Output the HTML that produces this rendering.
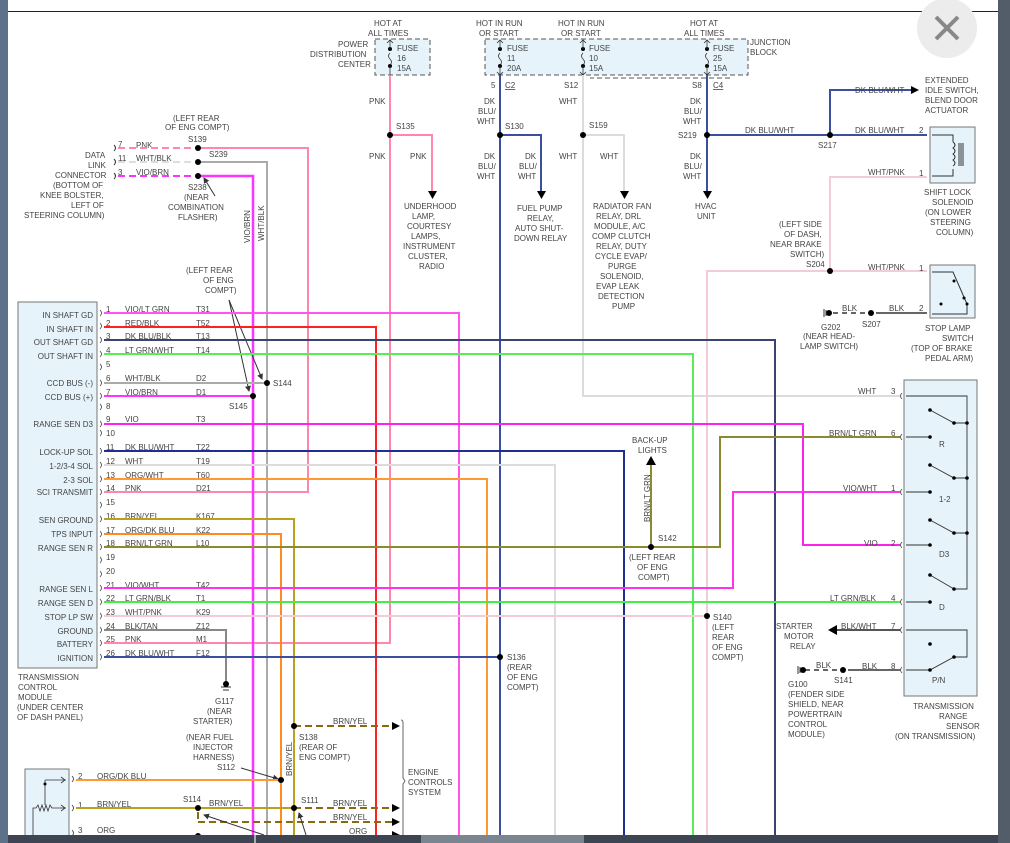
<!DOCTYPE html>
<html><head><meta charset="utf-8"><style>
html,body{margin:0;padding:0;background:#fff;width:1010px;height:843px;overflow:hidden}
svg{display:block}
text{font-family:"Liberation Sans",sans-serif;font-size:8px;fill:#444}
</style></head><body>
<svg width="1010" height="843" viewBox="0 0 1010 843" xmlns="http://www.w3.org/2000/svg">
<defs>
<marker id="ar" markerWidth="8" markerHeight="8" refX="7" refY="4" orient="auto" markerUnits="userSpaceOnUse"><path d="M0,0 L8,4 L0,8z" fill="#000"/></marker>
<marker id="sa" markerWidth="6" markerHeight="6" refX="5" refY="3" orient="auto" markerUnits="userSpaceOnUse"><path d="M0,0 L6,3 L0,6z" fill="#333"/></marker>
</defs>
<rect x="0" y="0" width="1010" height="843" fill="#fff"/>
<line x1="8" y1="11.5" x2="998" y2="11.5" stroke="#222" stroke-width="1"/>
<!-- close button -->
<circle cx="947" cy="28" r="30" fill="#ececec"/>
<path d="M936,17 L958,39 M958,17 L936,39" stroke="#888" stroke-width="4"/>

<!-- fuse boxes -->
<rect x="375" y="39" width="55" height="36" fill="#e6f3fb" stroke="#555" stroke-dasharray="5,3"/>
<rect x="485" y="39" width="263" height="36" fill="#e6f3fb" stroke="#555" stroke-dasharray="5,3"/>
<line x1="730" y1="78" x2="590" y2="78" stroke="#555" stroke-dasharray="5,3"/>
<g fill="#000">
<circle cx="390" cy="49" r="2"/><circle cx="390" cy="66" r="2"/>
<circle cx="500" cy="49" r="2"/><circle cx="500" cy="66" r="2"/>
<circle cx="583" cy="49" r="2"/><circle cx="583" cy="66" r="2"/>
<circle cx="707" cy="49" r="2"/><circle cx="707" cy="66" r="2"/>
</g>
<g stroke="#333" fill="none" stroke-width="0.8">
<path d="M390,40 V49 M390,66 V75 M387,43 L390,40 L393,43 M390,53 q-3,3 0,6 q3,3 0,6"/>
<path d="M500,40 V49 M500,66 V75 M497,43 L500,40 L503,43 M500,53 q-3,3 0,6 q3,3 0,6 M497,72 L500,75 L503,72"/>
<path d="M583,40 V49 M583,66 V75 M580,43 L583,40 L586,43 M580,72 L583,75 L586,72 M583,53 q-3,3 0,6 q3,3 0,6"/>
<path d="M707,40 V49 M707,66 V75 M704,43 L707,40 L710,43 M704,72 L707,75 L710,72 M707,53 q-3,3 0,6 q3,3 0,6"/>
</g>
<text x="374" y="26">HOT AT</text><text x="368" y="36">ALL TIMES</text>
<text x="338" y="47">POWER</text><text x="310" y="57">DISTRIBUTION</text><text x="338" y="67">CENTER</text>
<text x="397" y="51">FUSE</text><text x="397" y="61">16</text><text x="397" y="71">15A</text>
<text x="476" y="26">HOT IN RUN</text><text x="479" y="36">OR START</text>
<text x="558" y="26">HOT IN RUN</text><text x="561" y="36">OR START</text>
<text x="690" y="26">HOT AT</text><text x="684" y="36">ALL TIMES</text>
<text x="507" y="51">FUSE</text><text x="507" y="61">11</text><text x="507" y="71">20A</text>
<text x="589" y="51">FUSE</text><text x="589" y="61">10</text><text x="589" y="71">15A</text>
<text x="713" y="51">FUSE</text><text x="713" y="61">25</text><text x="713" y="71">15A</text>
<text x="750" y="45">JUNCTION</text><text x="750" y="55">BLOCK</text>
<text x="491" y="88">5</text><text x="505" y="88" text-decoration="underline">C2</text>
<text x="564" y="88">S12</text><text x="692" y="88">S8</text><text x="713" y="88" text-decoration="underline">C4</text>

<!-- vertical feeds -->
<g fill="none" stroke-width="2">
<path d="M390,75 V643 H104" stroke="#ff88aa"/>
<path d="M390,135 H432 V192" stroke="#ff88aa"/>
<path d="M500,75 V835" stroke="#3a4fa0"/>
<path d="M500,135 H541 V192" stroke="#3a4fa0"/>
<path d="M583,75 V396 H900" stroke="#dcdcdc"/>
<path d="M583,135 H624 V192" stroke="#dcdcdc"/>
<path d="M707,75 V192" stroke="#3a4fa0"/>
<path d="M707,135 H927" stroke="#3a4fa0"/>
<path d="M830,135 V90 H912" stroke="#3a4fa0"/>
</g>
<g fill="#000">
<path d="M428,191 h9 l-4.5,8z"/><path d="M537,191 h9 l-4.5,8z"/><path d="M620,191 h9 l-4.5,8z"/><path d="M703,191 h9 l-4.5,8z"/>
<path d="M911,86 v8 l8,-4z"/>
</g>
<text x="369" y="104">PNK</text><text x="369" y="159">PNK</text><text x="410" y="159">PNK</text>
<text x="396" y="129">S135</text>
<text x="484" y="104">DK</text><text x="478" y="114">BLU/</text><text x="477" y="124">WHT</text>
<text x="484" y="159">DK</text><text x="478" y="169">BLU/</text><text x="477" y="179">WHT</text>
<text x="525" y="159">DK</text><text x="519" y="169">BLU/</text><text x="518" y="179">WHT</text>
<text x="505" y="129">S130</text>
<text x="559" y="104">WHT</text><text x="559" y="159">WHT</text><text x="600" y="159">WHT</text>
<text x="589" y="128">S159</text>
<text x="690" y="104">DK</text><text x="684" y="114">BLU/</text><text x="683" y="124">WHT</text>
<text x="690" y="159">DK</text><text x="684" y="169">BLU/</text><text x="683" y="179">WHT</text>
<text x="678" y="138">S219</text>
<text x="745" y="133">DK BLU/WHT</text><text x="855" y="133">DK BLU/WHT</text><text x="855" y="93">DK BLU/WHT</text>
<text x="818" y="148">S217</text>
<text x="404" y="209">UNDERHOOD</text><text x="412" y="219">LAMP,</text><text x="407" y="229">COURTESY</text><text x="411" y="239">LAMPS,</text><text x="403" y="249">INSTRUMENT</text><text x="408" y="259">CLUSTER,</text><text x="419" y="269">RADIO</text>
<text x="517" y="211">FUEL PUMP</text><text x="527" y="221">RELAY,</text><text x="515" y="231">AUTO SHUT-</text><text x="514" y="241">DOWN RELAY</text>
<text x="593" y="209">RADIATOR FAN</text><text x="596" y="219">RELAY, DRL</text><text x="594" y="229">MODULE, A/C</text><text x="592" y="239">COMP CLUTCH</text><text x="596" y="249">RELAY, DUTY</text><text x="595" y="259">CYCLE EVAP/</text><text x="608" y="269">PURGE</text><text x="600" y="279">SOLENOID,</text><text x="596" y="289">EVAP LEAK</text><text x="598" y="299">DETECTION</text><text x="612" y="309">PUMP</text>
<text x="695" y="209">HVAC</text><text x="697" y="219">UNIT</text>
<text x="925" y="83">EXTENDED</text><text x="925" y="93">IDLE SWITCH,</text><text x="925" y="103">BLEND DOOR</text><text x="925" y="113">ACTUATOR</text>

<!-- shift lock solenoid -->
<rect x="930" y="127" width="45" height="56" fill="#e6f3fb" stroke="#777"/>
<path d="M932,135 H953 V142 M953,169 V176 H932" stroke="#333" fill="none"/>
<path d="M953,142 q4,3 0,6 q4,3 0,6 q4,3 0,6 q4,3 0,6" stroke="#333" fill="none"/>
<path d="M959,143 V166 M961,143 V166 M963,143 V166" stroke="#333"/>
<text x="919" y="133">2</text><text x="919" y="176">1</text>
<text x="924" y="195">SHIFT LOCK</text><text x="932" y="205">SOLENOID</text><text x="925" y="215">(ON LOWER</text><text x="930" y="225">STEERING</text><text x="936" y="235">COLUMN)</text>
<path d="M927,177 H830 V271 H707 V835" stroke="#f4ccd8" stroke-width="2" fill="none"/>
<path d="M830,271 H927" stroke="#f4ccd8" stroke-width="2"/>
<text x="868" y="175">WHT/PNK</text><text x="868" y="270">WHT/PNK</text>
<text x="779" y="227">(LEFT SIDE</text><text x="784" y="237">OF DASH,</text><text x="770" y="247">NEAR BRAKE</text><text x="790" y="257">SWITCH)</text><text x="806" y="267">S204</text>
<!-- stop lamp switch -->
<rect x="930" y="265" width="45" height="53" fill="#e6f3fb" stroke="#777"/>
<path d="M932,272 H953 L967,304 V314 H932" stroke="#333" fill="none"/>
<circle cx="954" cy="281" r="1.5"/><circle cx="941" cy="304" r="1.5"/><circle cx="967" cy="304" r="1.5"/><circle cx="964" cy="298" r="1.5"/>
<text x="919" y="271">1</text><text x="919" y="311">2</text>
<text x="925" y="331">STOP LAMP</text><text x="942" y="341">SWITCH</text><text x="911" y="351">(TOP OF BRAKE</text><text x="925" y="361">PEDAL ARM)</text>
<path d="M876,313 H927" stroke="#666" stroke-width="2"/>
<path d="M833,313 H871" stroke="#666" stroke-width="2" stroke-dasharray="5,4"/>
<circle cx="829" cy="313" r="3"/><path d="M824,309 V317 M826,310 V316" stroke="#333"/>
<circle cx="871" cy="313" r="3"/>
<text x="842" y="311">BLK</text><text x="889" y="311">BLK</text>
<text x="821" y="330">G202</text><text x="862" y="327">S207</text>
<text x="803" y="339">(NEAR HEAD-</text><text x="800" y="349">LAMP SWITCH)</text>

<!-- data link connector -->
<text x="85" y="158">DATA</text><text x="88" y="168">LINK</text><text x="55" y="178">CONNECTOR</text><text x="53" y="188">(BOTTOM OF</text><text x="40" y="198">KNEE BOLSTER,</text><text x="71" y="208">LEFT OF</text><text x="24" y="218">STEERING COLUMN)</text>
<path d="M114,145 q3,3 0,6 M114,159 q3,3 0,6 M114,173 q3,3 0,6" stroke="#333" fill="none"/>
<text x="118" y="147">7</text><text x="118" y="161">11</text><text x="118" y="175">3</text>
<text x="136" y="148">PNK</text><text x="136" y="161">WHT/BLK</text><text x="136" y="175">VIO/BRN</text>
<path d="M118,148 H198" stroke="#ff88aa" stroke-width="2" stroke-dasharray="7,4"/>
<path d="M118,162 H198" stroke="#ddd" stroke-width="2" stroke-dasharray="7,4"/>
<path d="M118,176 H198" stroke="#ff33ff" stroke-width="2" stroke-dasharray="7,4"/>
<path d="M198,148 H308 V492 H104" stroke="#ff88aa" stroke-width="2" fill="none"/>
<path d="M198,162 H267 V835" stroke="#aaa" stroke-width="2" fill="none"/>
<path d="M198,176 H253 V835" stroke="#ff33ff" stroke-width="2.5" fill="none"/>
<text x="173" y="121">(LEFT REAR</text><text x="165" y="130">OF ENG COMPT)</text><text x="188" y="142">S139</text>
<text x="209" y="157">S239</text><text x="188" y="190">S238</text><text x="184" y="200">(NEAR</text><text x="168" y="210">COMBINATION</text><text x="178" y="220">FLASHER)</text>
<line x1="215" y1="196" x2="204" y2="178" stroke="#333" marker-end="url(#sa)"/>
<text transform="translate(250,243) rotate(-90)">VIO/BRN</text>
<text transform="translate(264,241) rotate(-90)">WHT/BLK</text>
<text x="186" y="273">(LEFT REAR</text><text x="203" y="283">OF ENG</text><text x="205" y="293">COMPT)</text>
<line x1="229" y1="300" x2="249" y2="391" stroke="#333" marker-end="url(#sa)"/>
<line x1="229" y1="300" x2="262" y2="379" stroke="#333" marker-end="url(#sa)"/>

<!-- TCM -->
<rect x="18" y="302" width="79" height="366" fill="#e6f3fb" stroke="#777"/>
<g text-anchor="end">
<text x="93" y="318">IN SHAFT GD</text><text x="93" y="332">IN SHAFT IN</text><text x="93" y="345">OUT SHAFT GD</text><text x="93" y="359">OUT SHAFT IN</text>
<text x="93" y="386">CCD BUS (-)</text><text x="93" y="400">CCD BUS (+)</text><text x="93" y="427">RANGE SEN D3</text>
<text x="93" y="455">LOCK-UP SOL</text><text x="93" y="469">1-2/3-4 SOL</text><text x="93" y="483">2-3 SOL</text><text x="93" y="495">SCI TRANSMIT</text>
<text x="93" y="523">SEN GROUND</text><text x="93" y="537">TPS INPUT</text><text x="93" y="551">RANGE SEN R</text>
<text x="93" y="592">RANGE SEN L</text><text x="93" y="606">RANGE SEN D</text><text x="93" y="620">STOP LP SW</text><text x="93" y="634">GROUND</text><text x="93" y="647">BATTERY</text><text x="93" y="661">IGNITION</text>
</g>
<text x="18" y="680">TRANSMISSION</text><text x="18" y="690">CONTROL</text><text x="18" y="700">MODULE</text><text x="17" y="710">(UNDER CENTER</text><text x="17" y="720">OF DASH PANEL)</text>
<g stroke="#444" fill="none" stroke-width="0.8">
<path d="M100,310 q3,3 0,6 M100,323 q3,3 0,6 M100,337 q3,3 0,6 M100,351 q3,3 0,6 M100,364 q3,3 0,6 M100,380 q3,3 0,6 M100,393 q3,3 0,6 M100,404 q3,3 0,6 M100,421 q3,3 0,6 M100,430 q3,3 0,6 M100,448 q3,3 0,6 M100,462 q3,3 0,6 M100,476 q3,3 0,6 M100,489 q3,3 0,6 M100,502 q3,3 0,6 M100,516 q3,3 0,6 M100,531 q3,3 0,6 M100,544 q3,3 0,6 M100,557 q3,3 0,6 M100,571 q3,3 0,6 M100,585 q3,3 0,6 M100,599 q3,3 0,6 M100,613 q3,3 0,6 M100,627 q3,3 0,6 M100,640 q3,3 0,6 M100,654 q3,3 0,6"/>
</g>
<g>
<text x="106" y="312">1</text><text x="106" y="326">2</text><text x="106" y="339">3</text><text x="106" y="353">4</text><text x="106" y="367">5</text><text x="106" y="381">6</text><text x="106" y="395">7</text><text x="106" y="409">8</text><text x="106" y="422">9</text><text x="106" y="436">10</text>
<text x="106" y="450">11</text><text x="106" y="464">12</text><text x="106" y="478">13</text><text x="106" y="491">14</text><text x="106" y="505">15</text><text x="106" y="519">16</text><text x="106" y="533">17</text><text x="106" y="546">18</text><text x="106" y="560">19</text><text x="106" y="574">20</text>
<text x="106" y="588">21</text><text x="106" y="601">22</text><text x="106" y="615">23</text><text x="106" y="629">24</text><text x="106" y="642">25</text><text x="106" y="656">26</text>
<text x="125" y="312">VIO/LT GRN</text><text x="196" y="312">T31</text>
<text x="125" y="326">RED/BLK</text><text x="196" y="326">T52</text>
<text x="125" y="339">DK BLU/BLK</text><text x="196" y="339">T13</text>
<text x="125" y="353">LT GRN/WHT</text><text x="196" y="353">T14</text>
<text x="125" y="381">WHT/BLK</text><text x="196" y="381">D2</text>
<text x="125" y="395">VIO/BRN</text><text x="196" y="395">D1</text>
<text x="125" y="422">VIO</text><text x="196" y="422">T3</text>
<text x="125" y="450">DK BLU/WHT</text><text x="196" y="450">T22</text>
<text x="125" y="464">WHT</text><text x="196" y="464">T19</text>
<text x="125" y="478">ORG/WHT</text><text x="196" y="478">T60</text>
<text x="125" y="491">PNK</text><text x="196" y="491">D21</text>
<text x="125" y="519">BRN/YEL</text><text x="196" y="519">K167</text>
<text x="125" y="533">ORG/DK BLU</text><text x="196" y="533">K22</text>
<text x="125" y="546">BRN/LT GRN</text><text x="196" y="546">L10</text>
<text x="125" y="588">VIO/WHT</text><text x="196" y="588">T42</text>
<text x="125" y="601">LT GRN/BLK</text><text x="196" y="601">T1</text>
<text x="125" y="615">WHT/PNK</text><text x="196" y="615">K29</text>
<text x="125" y="629">BLK/TAN</text><text x="196" y="629">Z12</text>
<text x="125" y="642">PNK</text><text x="196" y="642">M1</text>
<text x="125" y="656">DK BLU/WHT</text><text x="196" y="656">F12</text>
</g>
<!-- TCM wires -->
<g fill="none" stroke-width="2">
<path d="M104,313 H459 V835" stroke="#ff55ee"/>
<path d="M104,327 H376 V835" stroke="#ff2020"/>
<path d="M104,340 H775 V835" stroke="#3a4470"/>
<path d="M104,354 H693 V835" stroke="#55ee55"/>
<path d="M104,383 H267" stroke="#aaa"/>
<path d="M104,396 H253" stroke="#ff33ff"/>
<path d="M104,424 H803 V545 H900" stroke="#ff22ee"/>
<path d="M104,451 H624 V835" stroke="#1f2f8f"/>
<path d="M104,465 H555 V835" stroke="#dcdcdc"/>
<path d="M104,479 H487 V835" stroke="#ff9933"/>
<path d="M104,519 H294 V835" stroke="#b8a020"/>
<path d="M104,534 H281 V835" stroke="#ff8a20"/>
<path d="M104,547 H720 V437 H900" stroke="#8a8a30"/>
<path d="M104,588 H733 V492 H900" stroke="#ff33ee"/>
<path d="M104,602 H900" stroke="#44ee44"/>
<path d="M104,616 H707" stroke="#f4ccd8"/>
<path d="M104,630 H226 V683" stroke="#888"/>
<path d="M104,657 H500" stroke="#3a4fa0"/>
<path d="M651,547 V464" stroke="#8a8a30"/>
</g>
<path d="M646,465 h10 l-5,-9z" fill="#000"/>
<text x="632" y="443">BACK-UP</text><text x="638" y="453">LIGHTS</text>
<text transform="translate(650,522) rotate(-90)">BRN/LT GRN</text>
<text x="658" y="541">S142</text><text x="629" y="560">(LEFT REAR</text><text x="637" y="570">OF ENG</text><text x="638" y="580">COMPT)</text>
<text x="713" y="620">S140</text><text x="712" y="630">(LEFT</text><text x="712" y="640">REAR</text><text x="712" y="650">OF ENG</text><text x="712" y="660">COMPT)</text>
<text x="507" y="660">S136</text><text x="507" y="670">(REAR</text><text x="507" y="680">OF ENG</text><text x="507" y="690">COMPT)</text>
<g fill="#000">
<circle cx="198" cy="148" r="3"/><circle cx="198" cy="162" r="3"/><circle cx="198" cy="176" r="3"/>
<circle cx="390" cy="135" r="3"/><circle cx="500" cy="135" r="3"/><circle cx="583" cy="135" r="3"/><circle cx="707" cy="135" r="3"/><circle cx="830" cy="135" r="3"/><circle cx="830" cy="271" r="3"/>
<circle cx="267" cy="383" r="3"/><circle cx="253" cy="396" r="3"/>
<circle cx="651" cy="547" r="3"/><circle cx="707" cy="616" r="3"/><circle cx="500" cy="657" r="3"/>
</g>
<text x="273" y="386">S144</text><text x="229" y="409">S145</text>
<!-- G117 -->
<path d="M221,687 H231 M223,690 H229" stroke="#333"/><circle cx="226" cy="684" r="3" fill="#000"/>
<text x="215" y="704">G117</text><text x="207" y="714">(NEAR</text><text x="193" y="724">STARTER)</text>

<!-- transmission range sensor -->
<rect x="904" y="380" width="73" height="316" fill="#e6f3fb" stroke="#777"/>
<g stroke="#333" fill="none" stroke-width="0.9">
<path d="M906,396 H967 V589 H954"/>
<path d="M930,410 L954,423 H967 M930,465 L954,478 H967 M930,520 L954,533 H967 M930,575 L954,589"/>
<path d="M906,437 H930 M906,492 H930 M906,545 H930 M906,602 H930 M906,670 H930 L954,657 H967 V630 H906"/>
</g>
<g fill="#000">
<circle cx="930" cy="410" r="1.8"/><circle cx="954" cy="423" r="1.8"/><circle cx="967" cy="423" r="1.8"/><circle cx="930" cy="437" r="1.8"/>
<circle cx="930" cy="465" r="1.8"/><circle cx="954" cy="478" r="1.8"/><circle cx="967" cy="478" r="1.8"/><circle cx="930" cy="492" r="1.8"/>
<circle cx="930" cy="520" r="1.8"/><circle cx="954" cy="533" r="1.8"/><circle cx="967" cy="533" r="1.8"/><circle cx="930" cy="545" r="1.8"/>
<circle cx="930" cy="575" r="1.8"/><circle cx="954" cy="589" r="1.8"/><circle cx="930" cy="602" r="1.8"/>
<circle cx="930" cy="644" r="1.8"/><circle cx="954" cy="657" r="1.8"/><circle cx="930" cy="670" r="1.8"/>
</g>
<text x="939" y="447">R</text><text x="939" y="502">1-2</text><text x="939" y="557">D3</text><text x="939" y="610">D</text><text x="932" y="683">P/N</text>
<g stroke="#444" fill="none" stroke-width="0.8">
<path d="M902,393 q-3,3 0,6 M902,434 q-3,3 0,6 M902,489 q-3,3 0,6 M902,542 q-3,3 0,6 M902,599 q-3,3 0,6 M902,627 q-3,3 0,6 M902,667 q-3,3 0,6"/>
</g>
<text x="858" y="394">WHT</text><text x="891" y="394">3</text>
<text x="829" y="436">BRN/LT GRN</text><text x="891" y="436">6</text>
<text x="843" y="491">VIO/WHT</text><text x="891" y="491">1</text>
<text x="864" y="546">VIO</text><text x="891" y="546">2</text>
<text x="830" y="601">LT GRN/BLK</text><text x="891" y="601">4</text>
<text x="841" y="629">BLK/WHT</text><text x="891" y="629">7</text>
<text x="862" y="669">BLK</text><text x="891" y="669">8</text>
<path d="M836,630 H900" stroke="#555" stroke-width="2"/>
<path d="M828,630 l9,-5 v10z" fill="#000"/>
<text x="776" y="629">STARTER</text><text x="784" y="639">MOTOR</text><text x="790" y="649">RELAY</text>
<path d="M848,670 H900" stroke="#666" stroke-width="2"/>
<path d="M805,670 H843" stroke="#666" stroke-width="2" stroke-dasharray="5,4"/>
<circle cx="803" cy="670" r="3"/><path d="M798,666 V674 M800,667 V673" stroke="#333"/>
<circle cx="843" cy="670" r="3"/>
<text x="816" y="668">BLK</text><text x="834" y="683">S141</text>
<text x="788" y="687">G100</text><text x="788" y="697">(FENDER SIDE</text><text x="788" y="707">SHIELD, NEAR</text><text x="788" y="717">POWERTRAIN</text><text x="788" y="727">CONTROL</text><text x="788" y="737">MODULE)</text>
<text x="913" y="709">TRANSMISSION</text><text x="939" y="719">RANGE</text><text x="946" y="729">SENSOR</text><text x="895" y="739">(ON TRANSMISSION)</text>

<!-- engine controls area -->
<path d="M294,726 H392" stroke="#8a6a10" stroke-width="2" stroke-dasharray="7,4"/>
<path d="M294,808 H392" stroke="#8a6a10" stroke-width="2" stroke-dasharray="7,4"/>
<path d="M198,822 H392 M198,812 V822" stroke="#8a6a10" stroke-width="2" stroke-dasharray="7,4"/>
<path d="M392,722 l8,4 l-8,4z M392,804 l8,4 l-8,4z M392,818 l8,4 l-8,4z M392,831 l8,4 l-8,4z" fill="#000"/>
<path d="M401,720 q2,0 2,3 V778 l2,3 l-2,3 V838" stroke="#666" fill="none"/>
<text x="408" y="775">ENGINE</text><text x="408" y="785">CONTROLS</text><text x="408" y="795">SYSTEM</text>
<text x="333" y="724">BRN/YEL</text><text x="333" y="806">BRN/YEL</text><text x="333" y="820">BRN/YEL</text><text x="349" y="834">ORG</text>
<text x="299" y="740">S138</text><text x="299" y="750">(REAR OF</text><text x="299" y="760">ENG COMPT)</text>
<text transform="translate(292,776) rotate(-90)">BRN/YEL</text>
<text x="186" y="740">(NEAR FUEL</text><text x="193" y="750">INJECTOR</text><text x="193" y="760">HARNESS)</text><text x="217" y="770">S112</text>
<line x1="241" y1="768" x2="278" y2="779" stroke="#333" marker-end="url(#sa)"/>
<text x="301" y="803">S111</text><text x="183" y="802">S114</text>
<line x1="264" y1="835" x2="204" y2="815" stroke="#333" marker-end="url(#sa)"/>
<line x1="306" y1="835" x2="299" y2="813" stroke="#333" marker-end="url(#sa)"/>
<!-- TPS -->
<rect x="25" y="769" width="44" height="74" fill="#e6f3fb" stroke="#777"/>
<g stroke="#333" fill="none" stroke-width="0.8">
<path d="M45,780 H66 M45,780 V805 M33,843 V808 H36 l2,-3 l2,6 l2,-6 l2,6 l2,-6 l2,6 l2,-6 l2,3 H66 M61,777 l4,3 l-4,3 M61,805 l4,3 l-4,3"/>
<path d="M72,776 q3,3 0,6 M72,805 q3,3 0,6 M72,830 q3,3 0,6"/>
</g>
<circle cx="45" cy="784" r="1.5"/>
<text x="78" y="779">2</text><text x="78" y="808">1</text><text x="78" y="833">3</text>
<text x="97" y="779">ORG/DK BLU</text><text x="97" y="807">BRN/YEL</text><text x="97" y="833">ORG</text>
<path d="M76,780 H281" stroke="#ff9933" stroke-width="2"/>
<path d="M76,808 H294" stroke="#b8a020" stroke-width="2"/>
<text x="209" y="806">BRN/YEL</text>
<g fill="#000"><circle cx="294" cy="726" r="3"/><circle cx="281" cy="780" r="3"/><circle cx="198" cy="808" r="3"/><circle cx="294" cy="808" r="3"/><circle cx="198" cy="836" r="3"/></g>

<!-- frame strips -->
<rect x="0" y="0" width="8" height="843" fill="#5d7189"/>
<rect x="998" y="0" width="12" height="843" fill="#525d69"/>
<rect x="8" y="835" width="990" height="8" fill="#3d4552"/>
<rect x="421" y="835" width="163" height="8" fill="#7a858f"/>
<rect x="254" y="835" width="2" height="8" fill="#aab"/>
</svg>
</body></html>
